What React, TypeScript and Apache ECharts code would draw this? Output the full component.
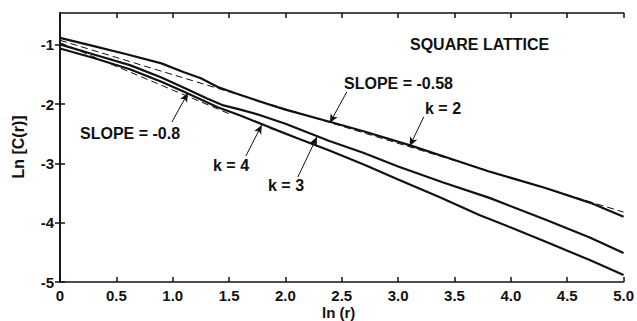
import React, { useEffect, useRef } from "react";
import * as echarts from "echarts";

// ---- data ----
const k2X = [0, 0.3, 0.6, 0.9, 1.1, 1.25, 1.4, 1.55, 1.8, 2.0, 2.4, 2.7, 3.1, 3.5, 3.8, 4.3, 4.7, 5.0];
const k2Y = [-0.88, -1.02, -1.16, -1.31, -1.46, -1.56, -1.71, -1.81, -1.97, -2.09, -2.3, -2.46, -2.69, -2.94, -3.13, -3.41, -3.66, -3.9];

const k3X = [0, 0.3, 0.62, 0.9, 1.1, 1.3, 1.45, 1.6, 1.75, 2.0, 2.39, 2.69, 3.0, 3.4, 3.81, 4.31, 4.7, 5.0];
const k3Y = [-0.99, -1.16, -1.34, -1.55, -1.72, -1.9, -2.02, -2.09, -2.17, -2.33, -2.62, -2.82, -3.05, -3.32, -3.58, -3.95, -4.25, -4.51];

const k4X = [0, 0.3, 0.62, 0.9, 1.1, 1.25, 1.4, 1.6, 1.86, 2.1, 2.39, 2.7, 3.0, 3.37, 3.72, 4.0, 4.31, 4.7, 5.0];
const k4Y = [-1.06, -1.22, -1.41, -1.62, -1.79, -1.92, -2.05, -2.19, -2.39, -2.57, -2.78, -3.02, -3.27, -3.57, -3.87, -4.08, -4.32, -4.63, -4.88];

const slope058X = [0, 5.0];
const slope058Y = [-0.92, -3.82];
const slope08X = [0, 1.5];
const slope08Y = [-0.96, -2.16];

const xTicks = [0, 0.5, 1.0, 1.5, 2.0, 2.5, 3.0, 3.5, 4.0, 4.5, 5.0];
const yTicks = [-5, -4, -3, -2, -1];

// annotation arrows: [fromX, fromY, toX, toY] in data units
const arrowSlope058 = [2.544, -1.793, 2.394, -2.316];
const arrowK2 = [3.227, -2.215, 3.103, -2.705];
const arrowSlope08 = [0.993, -2.3, 1.135, -1.81];
const arrowK4 = [1.649, -2.873, 1.79, -2.35];
const arrowK3 = [2.11, -3.23, 2.28, -2.55];

const zip = (xs: number[], ys: number[]) => xs.map((x, i) => [x, ys[i]]);

const FONT = "Liberation Sans";
const INK = "#111";

export default function App() {
  const ref = useRef<HTMLDivElement>(null);
  useEffect(() => {
    if (!ref.current) return;
    const chart = echarts.init(ref.current, undefined, { renderer: "svg" });
    const arrows = [arrowSlope058, arrowK2, arrowSlope08, arrowK4, arrowK3].map((a) => [
      { coord: [a[0], a[1]], symbol: "none" },
      { coord: [a[2], a[3]], symbol: "arrow", symbolSize: [6, 9] },
    ]);
    const solid = { color: INK, width: 2.2 };
    const dashed = { color: INK, width: 1, type: [7, 4] as any };
    const tickStyle = { show: true, inside: true, length: 5, lineStyle: { color: INK, width: 1.5 } };
    const axisLine = { show: true, lineStyle: { color: INK, width: 1.6 } };
    const txt = (text: string, left: number, top: number, size = 16) => ({
      type: "text",
      left,
      top,
      style: { text, fill: INK, font: `bold ${size}px "${FONT}"` },
    });
    chart.setOption({
      animation: false,
      backgroundColor: "#fff",
      grid: { left: 60, right: 13, top: 13, bottom: 39 },
      xAxis: [
        {
          type: "value",
          position: "bottom",
          min: 0,
          max: 5,
          interval: 0.5,
          axisLine,
          axisTick: tickStyle,
          splitLine: { show: false },
          axisLabel: {
            color: INK,
            fontFamily: FONT,
            fontWeight: "bold",
            fontSize: 15,
            margin: 6,
            customValues: xTicks,
            formatter: (v: number) => (v === 0 ? "0" : v.toFixed(1)),
          },
        },
        {
          type: "value",
          position: "top",
          min: 0,
          max: 5,
          interval: 0.5,
          axisLine,
          axisTick: tickStyle,
          splitLine: { show: false },
          axisLabel: { show: false },
        },
      ],
      yAxis: [
        {
          type: "value",
          position: "left",
          min: -5,
          max: -0.46,
          axisLine,
          axisTick: { ...tickStyle, customValues: yTicks },
          splitLine: { show: false },
          axisLabel: {
            color: INK,
            fontFamily: FONT,
            fontWeight: "bold",
            fontSize: 15,
            margin: 6,
            customValues: yTicks,
            formatter: (v: number) => String(v),
          },
        },
        {
          type: "value",
          position: "right",
          min: -5,
          max: -0.46,
          axisLine,
          axisTick: { ...tickStyle, customValues: yTicks },
          splitLine: { show: false },
          axisLabel: { show: false },
        },
      ],
      series: [
        {
          name: "k = 2",
          type: "line",
          data: zip(k2X, k2Y),
          showSymbol: false,
          lineStyle: solid,
          markLine: {
            silent: true,
            symbol: ["none", "arrow"],
            lineStyle: { color: INK, width: 1, type: "solid" },
            label: { show: false },
            data: arrows as any,
          },
        },
        { name: "k = 3", type: "line", data: zip(k3X, k3Y), showSymbol: false, lineStyle: solid },
        { name: "k = 4", type: "line", data: zip(k4X, k4Y), showSymbol: false, lineStyle: solid },
        { name: "SLOPE = -0.58", type: "line", data: zip(slope058X, slope058Y), showSymbol: false, lineStyle: dashed },
        { name: "SLOPE = -0.8", type: "line", data: zip(slope08X, slope08Y), showSymbol: false, lineStyle: dashed },
      ],
      graphic: [
        txt("SQUARE LATTICE", 410, 36),
        txt("SLOPE = -0.58", 344, 75),
        txt("k = 2", 425, 100),
        txt("SLOPE = -0.8", 80, 125),
        txt("k = 4", 213, 157),
        txt("k = 3", 268, 177),
        {
          type: "text",
          left: 322,
          top: 305,
          style: { text: "ln (r)", fill: INK, font: `bold 15px "${FONT}"` },
        },
        {
          type: "text",
          x: 18,
          y: 147,
          rotation: Math.PI / 2,
          style: {
            text: "Ln [C(r)]",
            fill: INK,
            font: `bold 16px "${FONT}"`,
            align: "center",
            verticalAlign: "middle",
          },
        },
      ],
    });
    return () => chart.dispose();
  }, []);
  return (
    <div
      ref={ref}
      style={{ position: "fixed", left: 0, top: 0, width: 637, height: 321 }}
    />
  );
}
